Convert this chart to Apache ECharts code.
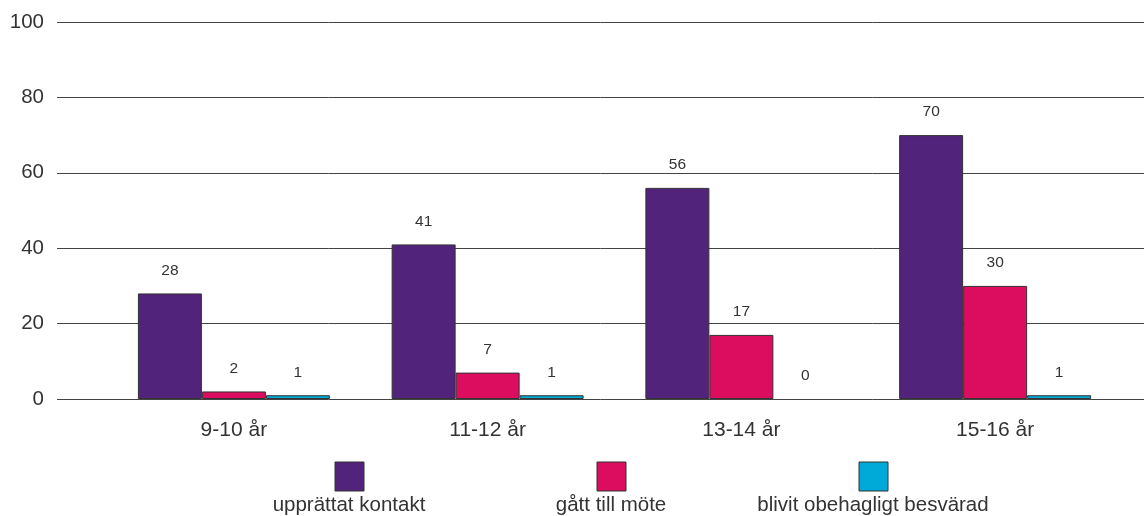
<!DOCTYPE html>
<html>
<head>
<meta charset="utf-8">
<script src="https://cdn.jsdelivr.net/npm/echarts@6/dist/echarts.min.js"></script>
<style>
  html, body { margin: 0; padding: 0; background: #fff; }
  #chart { width: 1144px; height: 516px; }
</style>
</head>
<body>
<div id="chart"></div>
<script>
var categories = ['9-10 år', '11-12 år', '13-14 år', '15-16 år'];
var seriesNames = ['upprättat kontakt', 'gått till möte', 'blivit obehagligt besvärad'];
var kontakt = [28, 41, 56, 70];
var mote = [2, 7, 17, 30];
var besvarad = [1, 1, 0, 1];
var colors = ['#51237b', '#dc0c5e', '#00aad8'];

var font = 'Liberation Sans, Arial, sans-serif';
var seriesData = [kontakt, mote, besvarad];

// legenden: ruta ovanför texten
var legendX = [349, 611, 873];
var legendGraphics = [];
seriesNames.forEach(function (n, i) {
    legendGraphics.push({
        type: 'rect',
        shape: { x: legendX[i] - 14, y: 462, width: 29, height: 29 },
        style: { fill: colors[i], stroke: '#333', lineWidth: 1 }
    });
    legendGraphics.push({
        type: 'text',
        x: legendX[i], y: 505,
        style: { text: n, fill: '#333', font: '20.5px ' + font, textAlign: 'center', textVerticalAlign: 'middle' }
    });
});

var chart = echarts.init(document.getElementById('chart'));
chart.setOption({
    animation: false,
    grid: [
        { left: 57, right: 0, top: 22, bottom: 117 },
        { left: 107, right: 22, top: 22, bottom: 117 }
    ],
    xAxis: [
        { gridIndex: 0, type: 'value', show: false, min: 0, max: 1 },
        {
            gridIndex: 1, type: 'category', data: categories,
            axisLine: { show: false }, axisTick: { show: false },
            axisLabel: { color: '#333', fontSize: 21, fontFamily: font, margin: 21 }
        }
    ],
    yAxis: [
        {
            gridIndex: 0, type: 'value', min: 0, max: 100, interval: 20,
            axisLine: { show: false }, axisTick: { show: false },
            axisLabel: { color: '#333', fontSize: 20.5, fontFamily: font, margin: 13 },
            splitLine: { lineStyle: { color: '#444', width: 1 } }
        },
        { gridIndex: 1, type: 'value', min: 0, max: 100, show: false }
    ],
    series: seriesNames.map(function (n, i) {
        return {
            name: n,
            type: 'bar',
            xAxisIndex: 1,
            yAxisIndex: 1,
            data: seriesData[i].map(function (v) {
                // stapel med värdet 0 ritas utan kantlinje
                return v === 0 ? { value: v, itemStyle: { borderWidth: 0 } } : v;
            }),
            barWidth: 64,
            barGap: '0%',
            itemStyle: { color: colors[i], borderColor: '#333', borderWidth: 1 },
            label: {
                show: true, position: 'top', distance: 15,
                color: '#333', fontSize: 15.5, fontFamily: font
            }
        };
    }),
    graphic: legendGraphics
});
</script>
</body>
</html>
